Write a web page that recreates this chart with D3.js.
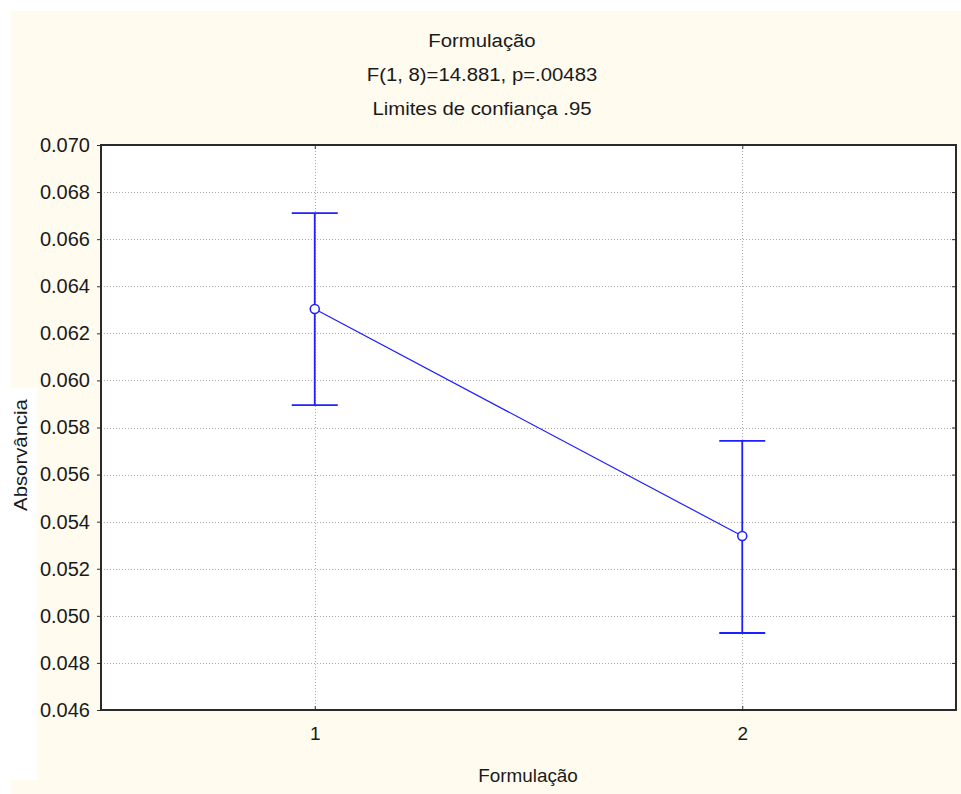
<!DOCTYPE html>
<html>
<head>
<meta charset="utf-8">
<script src="https://cdn.jsdelivr.net/npm/d3@7"></script>
<style>
  body { margin: 0; background: #ffffff; }
  svg text { font-family: "Liberation Sans", Arial, sans-serif; fill: #1a1a1a; }
</style>
</head>
<body>
<div id="chart"></div>
<script>
const width = 961;
const height = 794;
const margin = { 'top': 145, 'right': 5, 'bottom': 84, 'left': 101 };
const graphWidth = width - margin.left - margin.right;
const graphHeight = height - margin.top - margin.bottom;

// data
const categories = [1, 2];
const means = [0.06303, 0.05339];
const lower = [0.05895, 0.04927];
const upper = [0.06711, 0.05743];
const yTicks = [0.046, 0.048, 0.050, 0.052, 0.054, 0.056, 0.058, 0.060, 0.062, 0.064, 0.066, 0.068, 0.070];
const titleLines = ["Formulação", "F(1, 8)=14.881, p=.00483", "Limites de confiança .95"];

const data = categories.map((c, i) => ({ cat: c, mean: means[i], lo: lower[i], hi: upper[i] }));

const blue = '#1f1fff';
const stretch = 1.13; // the source text is drawn a bit wide

const svg = d3.select('#chart')
    .append('svg')
    .attr('width', width)
    .attr('height', height);

// cream page background (with the odd white strip of the scan)
svg.append('rect')
    .attr('x', 11).attr('y', 11)
    .attr('width', width - 11).attr('height', height - 11)
    .attr('fill', '#fffbef');
svg.append('rect')
    .attr('x', 0).attr('y', 388)
    .attr('width', 37).attr('height', 392)
    .attr('fill', '#ffffff');

const graph = svg.append('g')
    .attr('transform', `translate(${margin.left}, ${margin.top})`);

const x = d3.scaleLinear()
    .domain([0.5, 2.5])
    .range([0, graphWidth]);

const y = d3.scaleLinear()
    .domain([0.046, 0.070])
    .range([graphHeight, 0]);

graph.append('rect')
    .attr('width', graphWidth)
    .attr('height', graphHeight)
    .attr('fill', '#ffffff');

// grid
graph.append('g')
    .selectAll('line')
    .data(yTicks.slice(1, -1))
    .enter()
    .append('line')
    .attr('x1', 0).attr('x2', graphWidth)
    .attr('y1', d => Math.round(y(d)) + 0.5)
    .attr('y2', d => Math.round(y(d)) + 0.5)
    .attr('stroke', '#a8a8a8')
    .attr('stroke-dasharray', '1,2');

graph.append('g')
    .selectAll('line')
    .data(categories)
    .enter()
    .append('line')
    .attr('x1', d => Math.round(x(d)) + 0.5)
    .attr('x2', d => Math.round(x(d)) + 0.5)
    .attr('y1', 0).attr('y2', graphHeight)
    .attr('stroke', '#a8a8a8')
    .attr('stroke-dasharray', '1,2');

// axes
const yAxis = d3.axisLeft(y)
    .tickValues(yTicks)
    .tickFormat(d3.format('.3f'))
    .tickSize(4)
    .tickPadding(7);

const gYAxis = graph.append('g').call(yAxis);
gYAxis.select('.domain').remove();
gYAxis.selectAll('line').attr('stroke', '#333');
gYAxis.selectAll('text')
    .style('font-size', '20px')
    .attr('fill', '#1a1a1a');

const gYRight = graph.append('g')
    .attr('transform', `translate(${graphWidth}, 0)`)
    .call(d3.axisLeft(y).tickValues(yTicks).tickSize(4).tickFormat(''));
gYRight.select('.domain').remove();
gYRight.selectAll('line').attr('stroke', '#333');

const xAxis = d3.axisBottom(x)
    .tickValues(categories)
    .tickFormat(d3.format('d'))
    .tickSize(-4)
    .tickPadding(17);

const gXAxis = graph.append('g')
    .attr('transform', `translate(0, ${graphHeight})`)
    .call(xAxis);
gXAxis.select('.domain').remove();
gXAxis.selectAll('line').attr('stroke', '#333');
gXAxis.selectAll('text')
    .style('font-size', '19px')
    .attr('fill', '#1a1a1a');

const gXTop = graph.append('g')
    .call(d3.axisTop(x).tickValues(categories).tickSize(-4).tickFormat(''));
gXTop.select('.domain').remove();
gXTop.selectAll('line').attr('stroke', '#333');

// frame
graph.append('rect')
    .attr('width', graphWidth)
    .attr('height', graphHeight)
    .attr('fill', 'none')
    .attr('stroke', '#2a2a2a')
    .attr('stroke-width', 2);

// mean line
graph.append('path')
    .datum(data)
    .attr('fill', 'none')
    .attr('stroke', blue)
    .attr('stroke-width', 1.2)
    .attr('d', d3.line().x(d => x(d.cat)).y(d => y(d.mean)));

// error bars
const bars = graph.selectAll('.err')
    .data(data)
    .enter()
    .append('g')
    .attr('class', 'err');

bars.append('line')
    .attr('x1', d => x(d.cat)).attr('x2', d => x(d.cat))
    .attr('y1', d => y(d.lo)).attr('y2', d => y(d.hi))
    .attr('stroke', blue).attr('stroke-width', 1.8);

bars.append('line')
    .attr('x1', d => x(d.cat) - 23).attr('x2', d => x(d.cat) + 23)
    .attr('y1', d => y(d.hi)).attr('y2', d => y(d.hi))
    .attr('stroke', blue).attr('stroke-width', 1.8);

bars.append('line')
    .attr('x1', d => x(d.cat) - 23).attr('x2', d => x(d.cat) + 23)
    .attr('y1', d => y(d.lo)).attr('y2', d => y(d.lo))
    .attr('stroke', blue).attr('stroke-width', 1.8);

bars.append('circle')
    .attr('cx', d => x(d.cat))
    .attr('cy', d => y(d.mean))
    .attr('r', 4.5)
    .attr('fill', '#ffffff')
    .attr('stroke', blue)
    .attr('stroke-width', 1.5);

// titles
svg.selectAll('.title')
    .data(titleLines)
    .enter()
    .append('text')
    .attr('class', 'title')
    .attr('transform', (d, i) => `translate(482, ${47 + i * 34}) scale(${stretch}, 1)`)
    .attr('text-anchor', 'middle')
    .style('font-size', '18px')
    .text(d => d);

svg.append('text')
    .attr('transform', `translate(528, 782) scale(1.05, 1)`)
    .attr('text-anchor', 'middle')
    .style('font-size', '18px')
    .text('Formulação');

svg.append('text')
    .attr('transform', `translate(27, 455) rotate(-90) scale(${stretch}, 1)`)
    .attr('text-anchor', 'middle')
    .style('font-size', '18px')
    .text('Absorvância');
</script>
</body>
</html>
